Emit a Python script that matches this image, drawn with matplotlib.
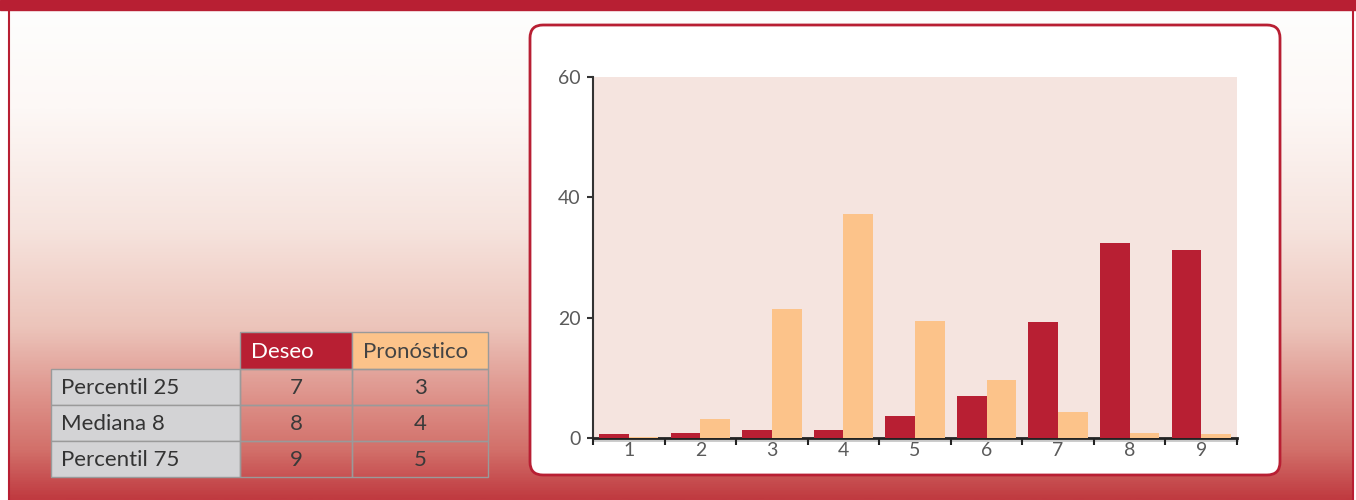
import numpy as np
import matplotlib
matplotlib.use("Agg")
import matplotlib.pyplot as plt
from matplotlib.patches import FancyBboxPatch, Rectangle
from matplotlib.colors import LinearSegmentedColormap

# ---- data ----
categories = ["1", "2", "3", "4", "5", "6", "7", "8", "9"]
deseo = [0.6, 0.8, 1.4, 1.4, 3.7, 7.0, 19.3, 32.4, 31.2]
pronostico = [0.1, 3.1, 21.5, 37.2, 19.5, 9.7, 4.4, 0.8, 0.6]
y_ticks = [0, 20, 40, 60]

table_rows = ["Percentil 25", "Mediana 8", "Percentil 75"]
table_cols = ["Deseo", "Pronóstico"]
table_deseo = [7, 8, 9]
table_pronostico = [3, 4, 5]

RED = "#b81f33"
ORANGE = "#fcc38a"
PANEL = "#f5e4df"
TEXT = "#5a5a5a"

plt.rcParams["font.family"] = ["Lato", "DejaVu Sans"]

W, H = 1356, 500
fig = plt.figure(figsize=(W / 100, H / 100), dpi=100)
fig.patch.set_facecolor("white")

# background canvas in pixel coordinates
bg = fig.add_axes([0, 0, 1, 1])
bg.set_xlim(0, W)
bg.set_ylim(H, 0)
bg.axis("off")

grad = LinearSegmentedColormap.from_list(
    "fade",
    [(0.0, "#fefefd"), (0.2, "#fdf8f6"), (0.45, "#f6e3dd"),
     (0.65, "#ecc4ba"), (0.8, "#dd9088"), (0.9, "#d2706a"), (1.0, "#c03a40")])
g = np.linspace(0, 1, 400).reshape(-1, 1)
bg.imshow(g, cmap=grad, extent=[9, 1352, 500, 9], aspect="auto", zorder=0)
bg.add_patch(Rectangle((0, 0), W, 9.5, color=RED, zorder=1))
bg.plot([8.5, 8.5], [9, 500], color=RED, lw=1.5, zorder=1)
bg.plot([1352.5, 1352.5], [9, 500], color=RED, lw=1.5, zorder=1)

# white rounded card behind the chart
card = FancyBboxPatch((530, 25), 750, 450,
                      boxstyle="round,pad=0,rounding_size=13",
                      facecolor="white", edgecolor=RED, lw=2, zorder=2)
bg.add_patch(card)

# ---- summary table ----
col_x = [51, 240, 352, 488]
row_y = [332, 369, 405, 441, 477]
grid = "#9a9a9a"
fs_tab = 16
# header
bg.add_patch(Rectangle((col_x[1], row_y[0]), col_x[2] - col_x[1], row_y[1] - row_y[0],
                       facecolor=RED, edgecolor=grid, lw=1, zorder=3))
bg.add_patch(Rectangle((col_x[2], row_y[0]), col_x[3] - col_x[2], row_y[1] - row_y[0],
                       facecolor=ORANGE, edgecolor=grid, lw=1, zorder=3))
bg.text(col_x[1] + 11, (row_y[0] + row_y[1]) / 2 + 1, table_cols[0], color="white",
        fontsize=fs_tab, va="center", ha="left", zorder=4)
bg.text(col_x[2] + 11, (row_y[0] + row_y[1]) / 2 + 1, table_cols[1], color="#444444",
        fontsize=fs_tab, va="center", ha="left", zorder=4)
for i, name in enumerate(table_rows):
    y0, y1 = row_y[i + 1], row_y[i + 2]
    yc = (y0 + y1) / 2 + 1
    bg.add_patch(Rectangle((col_x[0], y0), col_x[1] - col_x[0], y1 - y0,
                           facecolor="#d3d3d5", edgecolor=grid, lw=1, zorder=3))
    for j in (1, 2):
        bg.add_patch(Rectangle((col_x[j], y0), col_x[j + 1] - col_x[j], y1 - y0,
                               facecolor="none", edgecolor=grid, lw=1, zorder=3))
    bg.text(col_x[0] + 10, yc, name, color="#333333", fontsize=fs_tab,
            va="center", ha="left", zorder=4)
    bg.text((col_x[1] + col_x[2]) / 2, yc, str(table_deseo[i]), color="#3a3a3a",
            fontsize=fs_tab, va="center", ha="center", zorder=4)
    bg.text((col_x[2] + col_x[3]) / 2, yc, str(table_pronostico[i]), color="#3a3a3a",
            fontsize=fs_tab, va="center", ha="center", zorder=4)

# ---- bar chart ----
left, right, top, bottom = 593, 1237, 77, 438
ax = fig.add_axes([left / W, 1 - bottom / H, (right - left) / W, (bottom - top) / H])
ax.set_zorder(5)
ax.set_facecolor(PANEL)

x = np.arange(len(categories))
bw = 0.415
ax.bar(x - bw / 2, deseo, width=bw, color=RED, zorder=3)
ax.bar(x + bw / 2, pronostico, width=bw, color=ORANGE, zorder=3)

ax.set_xlim(-0.5, len(categories) - 0.5)
ax.set_ylim(0, 60)
ax.set_yticks(y_ticks)
ax.set_yticklabels([str(v) for v in y_ticks])
ax.set_xticks(x)
ax.set_xticklabels(categories)
ax.set_xticks(np.arange(-0.5, len(categories)), minor=True)

for s in ("top", "right"):
    ax.spines[s].set_visible(False)
ax.spines["left"].set_color("#333333")
ax.spines["left"].set_linewidth(1.5)
ax.spines["bottom"].set_color("#222222")
ax.spines["bottom"].set_linewidth(2)

ax.tick_params(axis="y", direction="out", length=4, width=1.5, color="#333333",
               labelsize=14, labelcolor=TEXT, pad=5)
ax.tick_params(axis="x", which="major", length=0, labelsize=14, labelcolor=TEXT, pad=3)
ax.tick_params(axis="x", which="minor", direction="out", length=5, width=1.5,
               color="#222222")

# thin grey rule under the baseline
ax.axhline(-0.35, color="#c8c8c8", lw=2, clip_on=False, zorder=1)

fig.savefig("out.png", dpi=100)
